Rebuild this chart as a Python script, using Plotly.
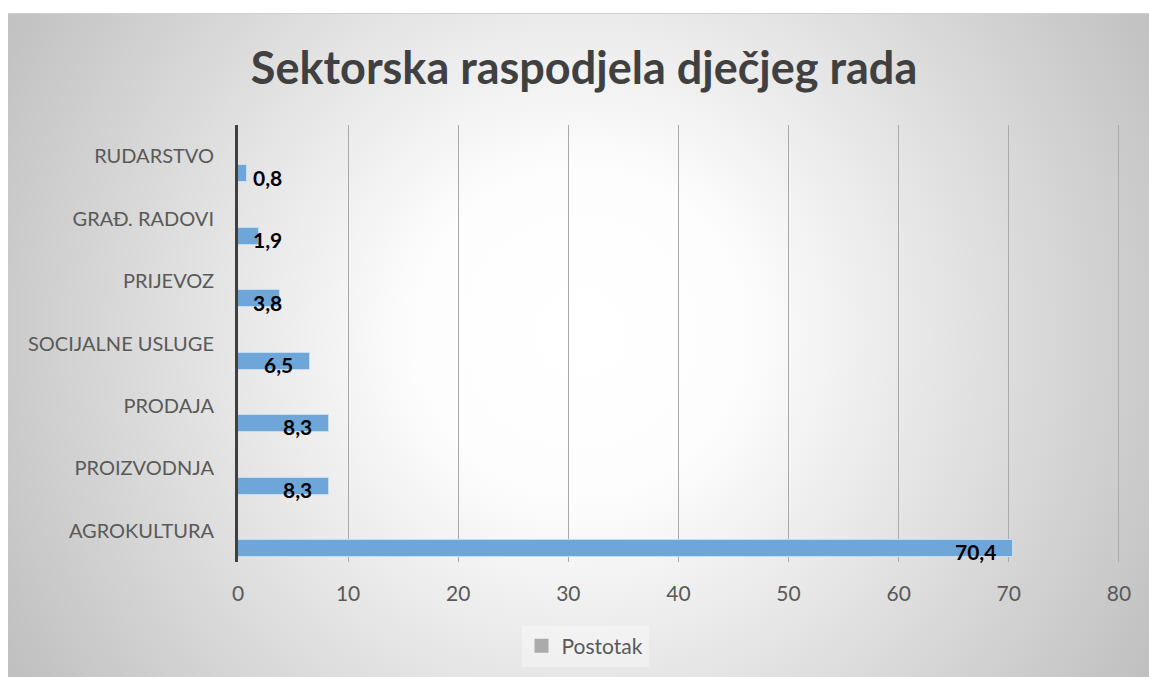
import base64
import plotly.graph_objects as go

categories = ['AGROKULTURA', 'PROIZVODNJA', 'PRODAJA', 'SOCIJALNE USLUGE',
              'PRIJEVOZ', 'GRAĐ. RADOVI', 'RUDARSTVO']
values = [70.4, 8.3, 8.3, 6.5, 3.8, 1.9, 0.8]
x_ticks = [0, 10, 20, 30, 40, 50, 60, 70, 80]
title_text = 'Sektorska raspodjela dječjeg rada'
legend_name = 'Postotak'

W, H = 1149, 677
L, R, T, B = 238, 29, 125, 115
pw, ph = W - L - R, H - T - B

# radial gradient background (chart area) as an SVG image
bw, bh = 1141, 664
svg = f'''<svg xmlns="http://www.w3.org/2000/svg" width="{bw}" height="{bh}" viewBox="0 0 {bw} {bh}">
<defs><radialGradient id="g" gradientUnits="userSpaceOnUse" cx="572" cy="320" r="660">
<stop offset="0" stop-color="#ffffff"/><stop offset="0.25" stop-color="#fdfdfd"/>
<stop offset="1" stop-color="#c0c0c0"/></radialGradient></defs>
<rect x="0" y="0" width="{bw}" height="{bh}" fill="url(#g)"/>
<line x1="0" y1="0.5" x2="{bw}" y2="0.5" stroke="#cfcfcf" stroke-width="1"/>
</svg>'''
src = 'data:image/svg+xml;base64,' + base64.b64encode(svg.encode()).decode()

def px_to_paper_x(px):
    return (px - L) / pw

def px_to_paper_y(py):
    return (H - B - py) / ph

fig = go.Figure()
fig.add_trace(go.Bar(
    x=values, y=categories, orientation='h',
    offset=-0.42, width=0.272,
    marker=dict(color='#6fa6da', line=dict(color='#c6dcf0', width=1)),
    showlegend=False, hoverinfo='x+y',
))
fig.add_trace(go.Scatter(
    x=[None], y=[None], mode='markers', name=legend_name,
    marker=dict(symbol='square', color='#ababab', size=14),
    showlegend=True,
))

for c, v in zip(categories, values):
    fig.add_annotation(
        x=max(v, 5.5), y=c, xref='x', yref='y',
        text='<b>' + f'{v:.1f}'.replace('.', ',') + '</b>',
        showarrow=False, xanchor='right', yanchor='middle',
        xshift=-15, yshift=-21,
        font=dict(family='Lato', size=21, color='#000000'),
    )

fig.add_layout_image(dict(
    source=src, xref='paper', yref='paper',
    x=px_to_paper_x(8), y=px_to_paper_y(13),
    sizex=px_to_paper_x(8 + bw) - px_to_paper_x(8),
    sizey=px_to_paper_y(13) - px_to_paper_y(13 + bh),
    xanchor='left', yanchor='top', sizing='stretch', layer='below',
))

fig.update_layout(
    width=W, height=H,
    margin=dict(l=L, r=R, t=T, b=B, autoexpand=False),
    paper_bgcolor='#ffffff', plot_bgcolor='rgba(0,0,0,0)',
    title=dict(text='<b>' + title_text + '</b>', x=584 / W, xanchor='center',
               y=1 - 68 / H, yanchor='middle',
               font=dict(family='Lato', size=45, color='#404040')),
    font=dict(family='Lato', color='#595959'),
    showlegend=True,
    legend=dict(orientation='h', x=px_to_paper_x(585), y=px_to_paper_y(646),
                xanchor='center', yanchor='middle',
                bgcolor='rgba(255,255,255,0.35)',
                font=dict(family='Lato', size=21, color='#595959')),
    bargap=0,
)
fig.update_xaxes(range=[0, 80.1], tickvals=x_ticks, showgrid=True,
                 gridcolor='#a9a9a9', gridwidth=1, zeroline=False,
                 showline=False, ticks='', ticklabelstandoff=17,
                 tickfont=dict(family='Lato', size=21, color='#595959'),
                 fixedrange=True)
fig.update_yaxes(categoryorder='array', categoryarray=categories,
                 range=[-0.5, len(categories) - 0.5],
                 showgrid=False, zeroline=False, showline=True,
                 linecolor='#404040', linewidth=3, ticks='',
                 ticklabelstandoff=17,
                 tickfont=dict(family='Lato', size=20, color='#595959'),
                 fixedrange=True)

fig.write_html('out.html', config={'displayModeBar': False},
               post_script="document.body.style.margin='0';document.body.style.overflow='hidden';")
